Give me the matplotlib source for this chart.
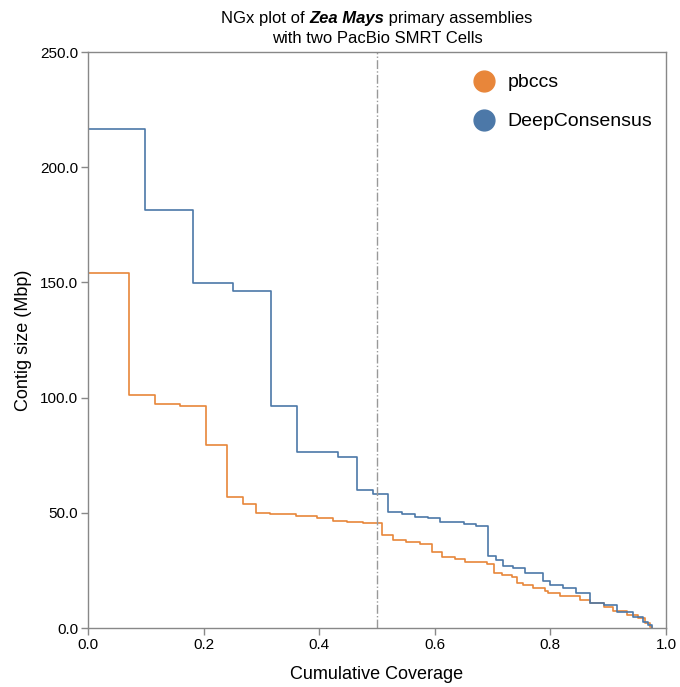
import matplotlib
matplotlib.use('Agg')
import matplotlib.pyplot as plt
from matplotlib.lines import Line2D

plt.rcParams['font.family'] = ['Liberation Sans', 'DejaVu Sans']

# NGx curves: coverage where each contig starts, contig size (Mbp)
deep_x = [0.0, 0.0986, 0.182, 0.250, 0.317, 0.362, 0.397, 0.432, 0.466, 0.4925,
          0.5196, 0.543, 0.566, 0.588, 0.609, 0.651, 0.672, 0.692, 0.706, 0.718,
          0.735, 0.756, 0.788, 0.799, 0.822, 0.845, 0.869, 0.892, 0.915, 0.943,
          0.961, 0.968, 0.975]
deep_y = [216.6, 181.3, 149.7, 146.4, 96.5, 76.5, 76.2, 74.1, 59.9, 58.0,
          50.3, 49.6, 48.3, 47.9, 45.9, 45.3, 44.4, 31.4, 29.5, 27.1,
          26.2, 24.0, 20.4, 18.5, 17.2, 15.1, 11.0, 10.0, 7.1, 4.9,
          2.7, 1.2, 0.0]

pbccs_x = [0.0, 0.0704, 0.1165, 0.160, 0.2047, 0.241, 0.268, 0.291, 0.315, 0.338,
           0.360, 0.396, 0.424, 0.448, 0.476, 0.509, 0.528, 0.551, 0.574, 0.595,
           0.612, 0.635, 0.652, 0.690, 0.702, 0.716, 0.733, 0.742, 0.753, 0.770,
           0.791, 0.796, 0.817, 0.851, 0.869, 0.892, 0.909, 0.932, 0.952, 0.964,
           0.972, 0.975]
pbccs_y = [153.9, 101.3, 97.4, 96.5, 79.6, 57.0, 53.7, 49.9, 49.6, 49.3,
           48.6, 47.6, 46.3, 45.9, 45.7, 40.2, 38.2, 37.5, 36.3, 32.8,
           30.9, 29.8, 28.6, 27.6, 24.0, 23.0, 22.0, 19.7, 18.7, 17.2,
           16.1, 15.1, 13.9, 12.2, 11.0, 9.3, 7.4, 5.6, 4.2, 2.3,
           0.6, 0.0]

labels = ['pbccs', 'DeepConsensus']
colors = ['#e8863a', '#4c78a8']

fig = plt.figure(figsize=(6.8, 6.87), dpi=100)
ax = fig.add_axes([88/680, 59/687, 578/680, 576/687])

ax.plot(pbccs_x, pbccs_y, drawstyle='steps-post', color=colors[0], lw=1.2)
ax.plot(deep_x, deep_y, drawstyle='steps-post', color=colors[1], lw=1.2)
ax.axvline(0.5, color='#999999', lw=1, linestyle='-.')

ax.set_xlim(0, 1)
ax.set_ylim(0, 250)
ax.set_xticks([0, 0.2, 0.4, 0.6, 0.8, 1.0])
ax.set_yticks([0, 50, 100, 150, 200, 250])
ax.xaxis.set_major_formatter(matplotlib.ticker.FormatStrFormatter('%.1f'))
ax.yaxis.set_major_formatter(matplotlib.ticker.FormatStrFormatter('%.1f'))
ax.tick_params(length=5, width=1, color='#888888', labelsize=11, pad=2)
for s in ax.spines.values():
    s.set_color('#888888')
    s.set_linewidth(1)

ax.set_xlabel('Cumulative Coverage', fontsize=13, labelpad=10)
ax.set_ylabel('Contig size (Mbp)', fontsize=13, labelpad=6)

handles = [Line2D([], [], ls='', marker='o', ms=15, color=c) for c in colors]
fig.legend(handles, labels, loc='upper left', bbox_to_anchor=(457/680, 1 - 66/687),
           frameon=False, fontsize=14, handletextpad=0.2, labelspacing=1.1,
           borderaxespad=0)

# title with bold italic species name
fig.canvas.draw()
rend = fig.canvas.get_renderer()
parts = [('NGx plot of ', 'normal', 'normal'), ('Zea Mays', 'bold', 'italic'),
         (' primary assemblies', 'normal', 'normal')]
texts = [fig.text(0, 0, p, fontsize=12, weight=w, style=st) for p, w, st in parts]
widths = [t.get_window_extent(rend).width for t in texts]
x0 = 377 - sum(widths) / 2
for t, w in zip(texts, widths):
    t.set_position((x0 / 680, 1 - 23 / 687))
    x0 += w
fig.text(377/680, 1 - 43/687, 'with two PacBio SMRT Cells', fontsize=12, ha='center')

fig.savefig('out.png', dpi=100)
